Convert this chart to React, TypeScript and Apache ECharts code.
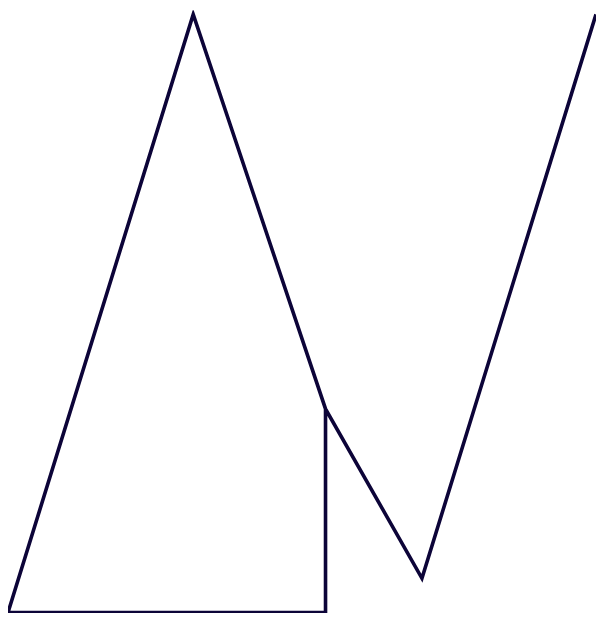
import React, { useEffect, useRef } from "react";
import * as echarts from "echarts";

// Vertex coordinates of the polyline (x on 0..100, y on 0..100)
const xValues = [54.0, 54.0, 0, 31.5, 54.0, 70.4, 100];
const yValues = [33.9, 0, 0, 99.6, 33.9, 5.7, 99.6];
const lineColor = "#0c0438";

export default function App() {
  const ref = useRef<HTMLDivElement>(null);
  useEffect(() => {
    if (!ref.current) return;
    const chart = echarts.init(ref.current, undefined, { renderer: "svg" });
    const data = xValues.map((x, i) => [x, yValues[i]]);
    chart.setOption({
      animation: false,
      grid: { left: 0, right: 0, top: 4, bottom: 0.5, containLabel: false },
      xAxis: { type: "value", min: 0, max: 100, show: false },
      yAxis: { type: "value", min: 0, max: 100, show: false },
      series: [
        {
          type: "line",
          data,
          showSymbol: false,
          symbol: "none",
          lineStyle: { color: lineColor, width: 3.6, join: "miter", cap: "butt" },
          silent: true,
        },
      ],
    });
    return () => chart.dispose();
  }, []);
  return <div ref={ref} style={{ width: 588, height: 605 }} />;
}
